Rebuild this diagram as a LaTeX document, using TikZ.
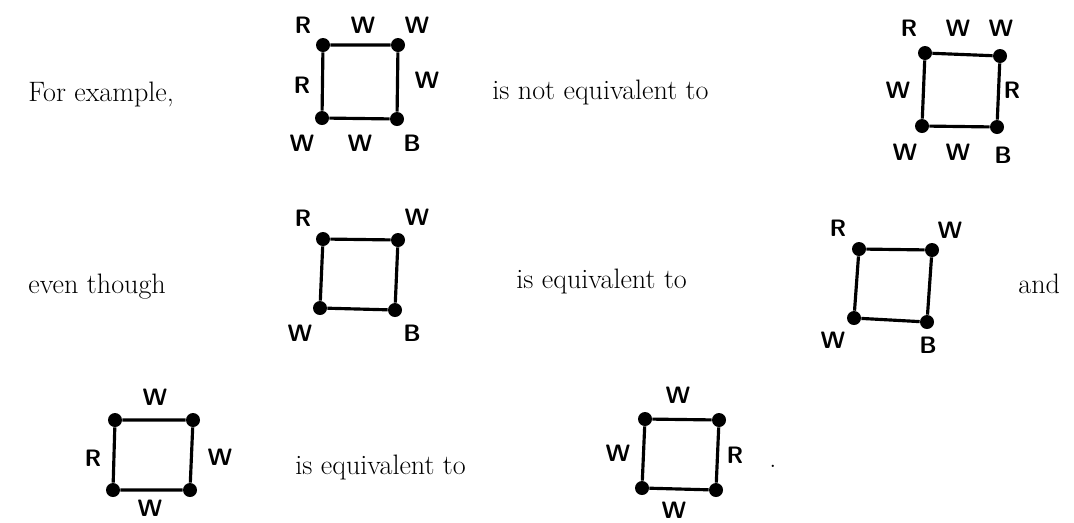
\documentclass[tikz,border=0pt]{standalone}
\usepackage{tikz}
\usetikzlibrary{positioning}

\begin{document}
\begin{tikzpicture}[x=0.02cm,y=-0.02cm,
  dot/.style={circle,fill=black,inner sep=0pt,minimum size=0.28cm},
  edge/.style={line width=1.8pt},
  lab/.style={font=\fontsize{13.5}{15}\selectfont\sffamily\bfseries,inner sep=0pt},
  txt/.style={font=\fontsize{16}{19}\selectfont,anchor=base west,inner sep=0pt}]
\useasboundingbox (0,0) rectangle (1074,522);

% corners of the six squares
\foreach \n/\x/\y in {a1/323/45, a2/398/45, a3/322/118, a4/397/119,
                      b1/925/53, b2/1000/56, b3/922/126, b4/997/127,
                      c1/323/239, c2/398/240, c3/320/308, c4/395/310,
                      d1/859/249, d2/932/250, d3/854/318, d4/927/322,
                      e1/115/420, e2/193/420, e3/113/490, e4/190/490,
                      f1/645/419, f2/719/420, f3/642/488, f4/716/490} {
  \node[dot] (\n) at (\x,\y) {};
}
\foreach \s in {a,b,c,d,e,f} {
  \draw[edge] (\s1) -- (\s2) -- (\s4) -- (\s3) -- (\s1);
}

% colour labels
\foreach \x/\y/\t [count=\k] in {303/25/R, 363/25/W, 417/25/W, 302/85/R, 427/80/W, 302/143/W, 360/143/W, 412/143/B,
                                 909/28/R, 958/28/W, 1001/28/W, 898/90/W, 1012/90/R, 905/152/W, 958/152/W, 1003/155/B,
                                 303/218/R, 417/217/W, 300/333/W, 412/333/B,
                                 838/228/R, 950/230/W, 833/340/W, 928/345/B,
                                 155/397/W, 93/458/R, 220/457/W, 150/508/W,
                                 678/395/W, 618/453/W, 735/455/R, 674/510/W} {
  \node[lab] (l\k) at (\x,\y) {\t};
}

% running text
\node[txt] (t1) at (28,101) {For example,};
\node[txt] (t2) at (492,99) {is not equivalent to};
\node[txt] (t3) at (28,293) {even though};
\node[txt] (t4) at (516,288) {is equivalent to};
\node[txt] (t5) at (1018,293) {and};
\node[txt] (t6) at (295,474) {is equivalent to};
\node[txt] (t7) at (769,467) {.};
\end{tikzpicture}
\end{document}
